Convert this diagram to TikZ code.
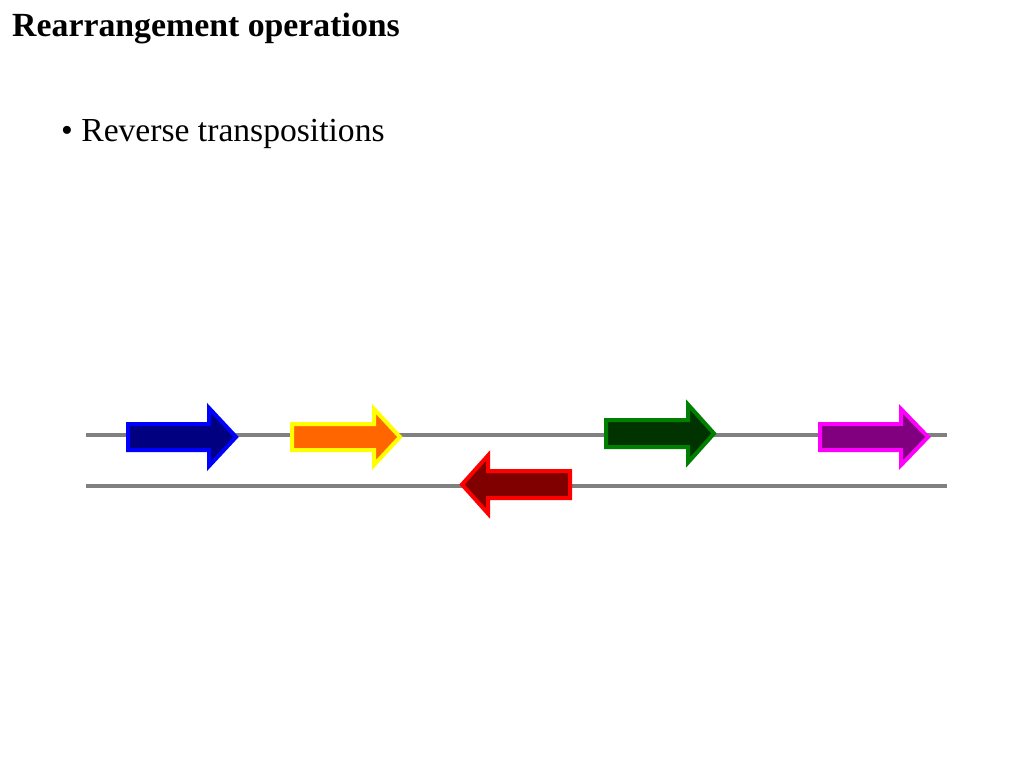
\documentclass[tikz,border=0pt]{standalone}
\usepackage{fontspec}
\setmainfont{Liberation Serif}
\begin{document}
\begin{tikzpicture}[x=1pt,y=-1pt,
  strand/.style={draw=grayc,line width=4pt},
  gene/.style={line width=4pt,line join=miter}]
\definecolor{grayc}{HTML}{808080}
\definecolor{navyc}{HTML}{000080}
\definecolor{bluec}{HTML}{0000FF}
\definecolor{orangec}{HTML}{FF6600}
\definecolor{yellowc}{HTML}{FFFF00}
\definecolor{dgreenc}{HTML}{003300}
\definecolor{greenc}{HTML}{008000}
\definecolor{purplec}{HTML}{800080}
\definecolor{magentac}{HTML}{FF00FF}
\definecolor{maroonc}{HTML}{800000}
\definecolor{redc}{HTML}{FF0000}
\useasboundingbox (0,0) rectangle (1024,768);
\node[anchor=base west,inner sep=0pt,font=\fontsize{33.8}{40}\selectfont\bfseries] (title) at (12,37) {Rearrangement operations};
\node[anchor=base west,inner sep=0pt,font=\fontsize{33.6}{40}\selectfont] (bullet) at (61,141) {\textbullet\ Reverse transpositions};
\coordinate (t1) at (86,435); \coordinate (t2) at (947,435);
\coordinate (b1) at (86,486); \coordinate (b2) at (947,486);
\draw[strand] (t1) -- (t2);
\draw[strand] (b1) -- (b2);
\newcommand{\genearrow}[8]{%
  \draw[gene,fill=#1,draw=#2] (#3,#6-#7) -- (#4,#6-#7) -- (#4,#6-#8) -- (#5,#6) -- (#4,#6+#8) -- (#4,#6+#7) -- (#3,#6+#7) -- cycle;}
\genearrow{navyc}{bluec}{128}{209}{236}{437}{13}{29}
\genearrow{orangec}{yellowc}{292}{374}{400}{437}{13}{28}
\genearrow{dgreenc}{greenc}{606}{688}{714}{433.5}{13.5}{29}
\genearrow{purplec}{magentac}{820}{901}{928}{437}{13}{28}
\genearrow{maroonc}{redc}{570}{488}{462}{484.5}{13.5}{29}
\end{tikzpicture}
\end{document}
